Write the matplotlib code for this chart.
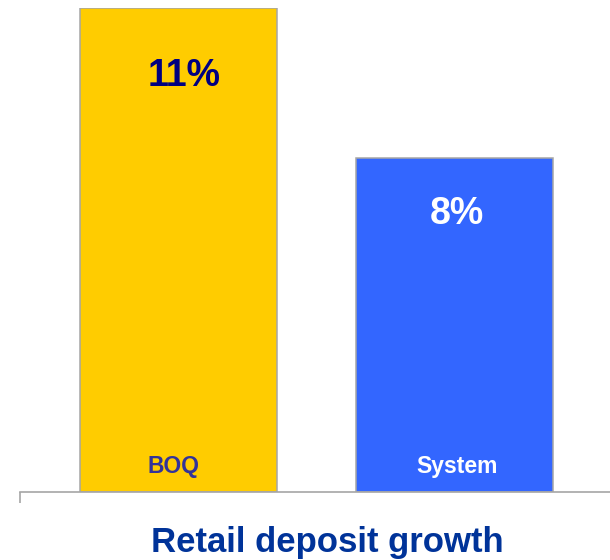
import matplotlib.pyplot as plt

plt.rcParams['font.family'] = ['Liberation Sans', 'DejaVu Sans']

# data
categories = ['BOQ', 'System']
growth = [11.0, 7.6]
value_labels = ['11%', '8%']

bar_colors = ['#FFCC00', '#3366FF']
value_colors = ['#000080', '#FFFFFF']
cat_colors = ['#333399', '#FFFFFF']
value_offsets = [(4, -56), (1.5, -47.5)]   # points from bar top (baseline)
cat_offsets = [(-3.5, 13.7), (1.5, 13.7)]  # points from axis (baseline)

fig = plt.figure(figsize=(6.1, 5.6), dpi=100)
ax = fig.add_axes([20 / 610, 68 / 560, 590 / 610, 484 / 560])

x = list(range(len(categories)))
bars = ax.bar(x, growth, width=0.714, color=bar_colors,
              edgecolor='#A6A6A6', linewidth=1.1, zorder=2)

ax.set_xlim(-0.574, 1.563)
ax.set_ylim(0, max(growth))

# value labels near the top of each bar
for xi, v, lab, c, off in zip(x, growth, value_labels, value_colors, value_offsets):
    ax.annotate(lab, xy=(xi, v), xytext=off, textcoords='offset points',
                ha='center', va='baseline', fontsize=27, fontweight='bold',
                color=c)

# category names inside the bars, near the bottom
for xi, cat, c, off in zip(x, categories, cat_colors, cat_offsets):
    ax.annotate(cat, xy=(xi, 0), xytext=off, textcoords='offset points',
                ha='center', va='baseline', fontsize=16.5, fontweight='bold',
                color=c)

# only the bottom axis line with a single tick at the left end
for side in ['left', 'right', 'top']:
    ax.spines[side].set_visible(False)
ax.spines['bottom'].set_color('#A6A6A6')
ax.spines['bottom'].set_linewidth(1.2)
ax.spines['bottom'].set_zorder(3)
ax.set_yticks([])
ax.set_xticks([-0.574])
ax.set_xticklabels([''])
ax.tick_params(axis='x', direction='out', length=8, width=1.2, color='#A6A6A6')

fig.text(327 / 610, 1 - 552 / 560, 'Retail deposit growth', ha='center',
         va='baseline', fontsize=25, fontweight='bold', color='#003399')

fig.savefig('out.png', dpi=100)
